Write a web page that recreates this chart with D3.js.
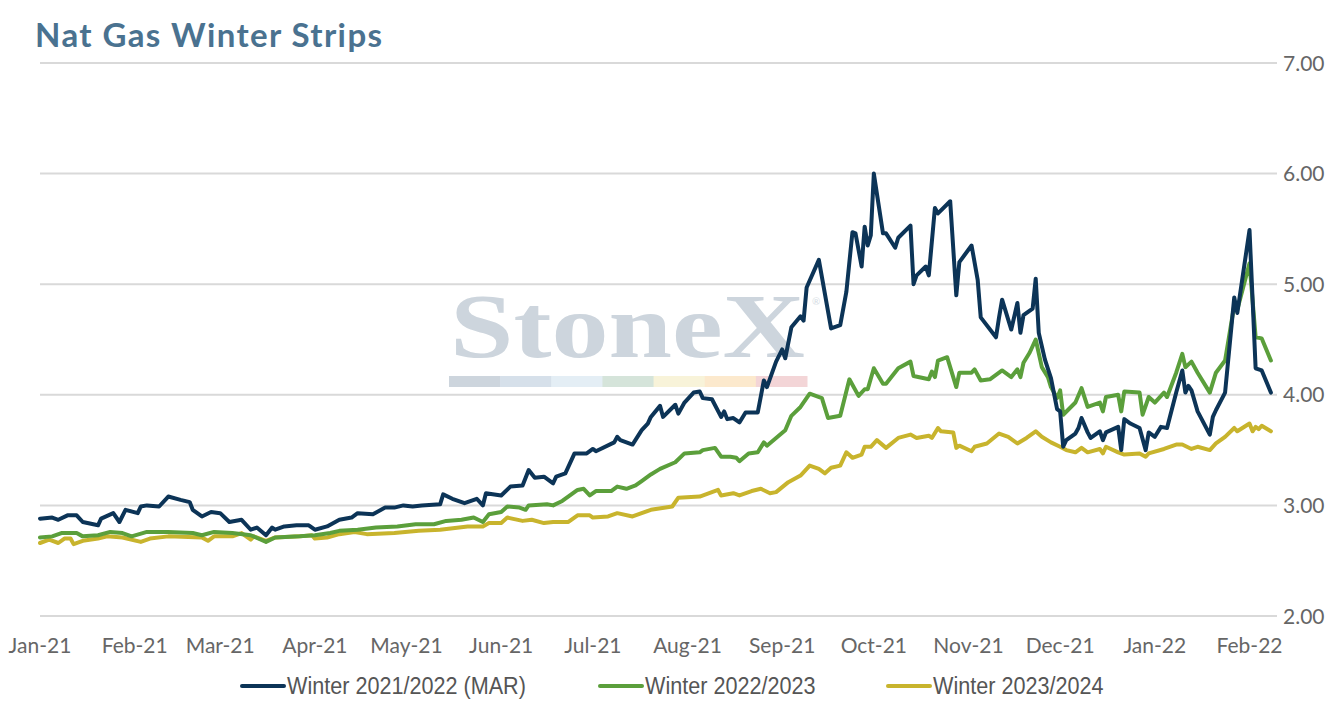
<!DOCTYPE html>
<html>
<head>
<meta charset="utf-8">
<script src="https://cdn.jsdelivr.net/npm/d3@7"></script>
<style>
  html, body { margin: 0; padding: 0; background: #fff; }
  svg { display: block; }
</style>
</head>
<body>
<div id="chart"></div>
<script>
// --- DATA ---
const seriesNames = ["Winter 2021/2022 (MAR)", "Winter 2022/2023", "Winter 2023/2024"];
const seriesColors = ["#0c3457", "#5b9f3b", "#c8b42d"];
const yTicks = [2, 3, 4, 5, 6, 7];

const winter2122 = [
  ["2021-01-01",2.88],["2021-01-05",2.89],["2021-01-07",2.87],["2021-01-10",2.91],["2021-01-13",2.91],
  ["2021-01-15",2.85],["2021-01-20",2.82],["2021-01-21",2.88],["2021-01-25",2.93],["2021-01-27",2.85],
  ["2021-01-29",2.96],["2021-02-02",2.93],["2021-02-03",2.99],["2021-02-05",3.00],["2021-02-09",2.99],
  ["2021-02-12",3.08],["2021-02-16",3.05],["2021-02-19",3.03],["2021-02-20",2.96],["2021-02-23",2.90],
  ["2021-02-26",2.94],["2021-03-01",2.93],["2021-03-04",2.85],["2021-03-08",2.87],["2021-03-11",2.78],
  ["2021-03-13",2.80],["2021-03-16",2.73],["2021-03-18",2.80],["2021-03-19",2.78],["2021-03-22",2.81],
  ["2021-03-26",2.82],["2021-03-30",2.82],["2021-04-01",2.78],["2021-04-05",2.81],["2021-04-09",2.87],
  ["2021-04-13",2.89],["2021-04-15",2.93],["2021-04-20",2.92],["2021-04-24",2.98],["2021-04-27",2.98],
  ["2021-04-30",3.00],["2021-05-03",2.99],["2021-05-06",3.00],["2021-05-12",3.01],["2021-05-13",3.10],
  ["2021-05-16",3.06],["2021-05-20",3.02],["2021-05-24",3.06],["2021-05-26",3.00],["2021-05-27",3.11],
  ["2021-06-01",3.09],["2021-06-04",3.17],["2021-06-08",3.18],["2021-06-10",3.32],["2021-06-12",3.25],
  ["2021-06-15",3.26],["2021-06-18",3.20],["2021-06-19",3.26],["2021-06-22",3.29],["2021-06-25",3.47],
  ["2021-06-29",3.47],["2021-07-01",3.51],["2021-07-02",3.49],["2021-07-08",3.57],["2021-07-09",3.62],
  ["2021-07-10",3.59],["2021-07-14",3.55],["2021-07-17",3.68],["2021-07-19",3.74],["2021-07-20",3.80],
  ["2021-07-23",3.90],["2021-07-24",3.80],["2021-07-28",3.91],["2021-07-29",3.83],["2021-07-31",3.93],
  ["2021-08-03",4.02],["2021-08-05",4.03],["2021-08-06",3.97],["2021-08-09",3.96],["2021-08-12",3.80],
  ["2021-08-13",3.85],["2021-08-14",3.78],["2021-08-16",3.79],["2021-08-18",3.75],["2021-08-20",3.84],
  ["2021-08-24",3.84],["2021-08-26",4.13],["2021-08-27",4.07],["2021-08-30",4.30],["2021-09-01",4.41],
  ["2021-09-02",4.33],["2021-09-04",4.61],["2021-09-07",4.71],["2021-09-08",4.67],["2021-09-09",4.97],
  ["2021-09-13",5.22],["2021-09-17",4.60],["2021-09-20",4.63],["2021-09-22",4.93],["2021-09-24",5.47],
  ["2021-09-25",5.46],["2021-09-27",5.16],["2021-09-28",5.52],["2021-09-29",5.35],["2021-09-30",5.44],
  ["2021-10-01",6.00],["2021-10-04",5.46],["2021-10-05",5.46],["2021-10-08",5.33],["2021-10-09",5.42],
  ["2021-10-13",5.53],["2021-10-14",5.00],["2021-10-15",5.08],["2021-10-18",5.16],["2021-10-19",5.08],
  ["2021-10-21",5.69],["2021-10-22",5.64],["2021-10-26",5.75],["2021-10-28",4.90],["2021-10-29",5.20],
  ["2021-11-02",5.35],["2021-11-04",5.04],["2021-11-05",4.70],["2021-11-10",4.52],["2021-11-11",4.70],
  ["2021-11-12",4.86],["2021-11-15",4.59],["2021-11-17",4.83],["2021-11-18",4.56],["2021-11-19",4.72],
  ["2021-11-22",4.78],["2021-11-23",5.05],["2021-11-24",4.56],["2021-11-26",4.32],["2021-11-28",4.15],
  ["2021-11-30",3.87],["2021-12-01",3.85],["2021-12-02",3.53],["2021-12-03",3.59],["2021-12-06",3.65],
  ["2021-12-07",3.70],["2021-12-08",3.79],["2021-12-10",3.66],["2021-12-11",3.61],["2021-12-14",3.67],
  ["2021-12-15",3.59],["2021-12-16",3.66],["2021-12-20",3.71],["2021-12-21",3.50],["2021-12-22",3.78],
  ["2021-12-24",3.74],["2021-12-27",3.70],["2021-12-29",3.50],["2021-12-30",3.66],["2022-01-01",3.62],
  ["2022-01-03",3.71],["2022-01-05",3.70],["2022-01-08",4.02],["2022-01-10",4.22],["2022-01-11",4.02],
  ["2022-01-12",4.08],["2022-01-13",4.04],["2022-01-15",3.85],["2022-01-19",3.64],["2022-01-20",3.80],
  ["2022-01-21",3.86],["2022-01-24",4.02],["2022-01-27",4.88],["2022-01-28",4.74],["2022-02-01",5.49],
  ["2022-02-03",4.24],["2022-02-05",4.22],["2022-02-08",4.02]
];

const winter2223 = [
  ["2021-01-01",2.71],["2021-01-05",2.72],["2021-01-08",2.75],["2021-01-13",2.75],["2021-01-15",2.72],
  ["2021-01-20",2.73],["2021-01-24",2.76],["2021-01-28",2.75],["2021-01-31",2.72],["2021-02-05",2.76],
  ["2021-02-12",2.76],["2021-02-20",2.75],["2021-02-23",2.73],["2021-02-27",2.76],["2021-03-05",2.75],
  ["2021-03-11",2.73],["2021-03-16",2.67],["2021-03-19",2.71],["2021-03-27",2.72],["2021-04-01",2.73],
  ["2021-04-06",2.75],["2021-04-09",2.77],["2021-04-15",2.78],["2021-04-21",2.80],["2021-04-28",2.81],
  ["2021-05-04",2.83],["2021-05-10",2.83],["2021-05-14",2.86],["2021-05-19",2.87],["2021-05-23",2.89],
  ["2021-05-26",2.85],["2021-05-28",2.92],["2021-06-01",2.94],["2021-06-03",2.99],["2021-06-07",2.98],
  ["2021-06-09",2.96],["2021-06-10",3.00],["2021-06-16",3.01],["2021-06-18",3.00],["2021-06-21",3.04],
  ["2021-06-26",3.14],["2021-06-28",3.15],["2021-06-30",3.09],["2021-07-02",3.13],["2021-07-07",3.13],
  ["2021-07-09",3.17],["2021-07-12",3.15],["2021-07-15",3.18],["2021-07-17",3.22],["2021-07-20",3.28],
  ["2021-07-23",3.33],["2021-07-28",3.39],["2021-07-31",3.47],["2021-08-05",3.48],["2021-08-06",3.50],
  ["2021-08-10",3.52],["2021-08-12",3.44],["2021-08-15",3.44],["2021-08-17",3.43],["2021-08-18",3.40],
  ["2021-08-21",3.47],["2021-08-24",3.48],["2021-08-26",3.57],["2021-08-27",3.54],["2021-08-30",3.61],
  ["2021-09-02",3.68],["2021-09-04",3.81],["2021-09-07",3.89],["2021-09-10",4.01],["2021-09-14",3.97],
  ["2021-09-16",3.79],["2021-09-20",3.81],["2021-09-23",4.14],["2021-09-26",3.99],["2021-09-28",4.05],
  ["2021-09-29",4.05],["2021-10-01",4.24],["2021-10-04",4.10],["2021-10-05",4.10],["2021-10-09",4.24],
  ["2021-10-13",4.30],["2021-10-14",4.17],["2021-10-19",4.14],["2021-10-20",4.21],["2021-10-21",4.16],
  ["2021-10-22",4.31],["2021-10-25",4.34],["2021-10-28",4.07],["2021-10-29",4.20],["2021-11-02",4.20],
  ["2021-11-03",4.23],["2021-11-05",4.13],["2021-11-08",4.14],["2021-11-12",4.22],["2021-11-15",4.16],
  ["2021-11-17",4.23],["2021-11-18",4.16],["2021-11-19",4.29],["2021-11-21",4.38],["2021-11-23",4.50],
  ["2021-11-25",4.25],["2021-11-27",4.16],["2021-11-28",4.07],["2021-11-30",3.97],["2021-12-01",4.04],
  ["2021-12-02",3.82],["2021-12-06",3.93],["2021-12-08",4.06],["2021-12-10",3.89],["2021-12-14",3.93],
  ["2021-12-15",3.85],["2021-12-16",3.98],["2021-12-20",4.00],["2021-12-21",3.85],["2021-12-22",4.03],
  ["2021-12-27",4.02],["2021-12-28",3.82],["2021-12-30",3.98],["2022-01-01",3.93],["2022-01-04",4.02],
  ["2022-01-05",3.98],["2022-01-08",4.20],["2022-01-10",4.37],["2022-01-11",4.25],["2022-01-13",4.30],
  ["2022-01-15",4.20],["2022-01-19",4.02],["2022-01-21",4.20],["2022-01-24",4.31],["2022-01-27",4.81],
  ["2022-01-28",4.77],["2022-02-01",5.19],["2022-02-03",4.52],["2022-02-05",4.51],["2022-02-08",4.31]
];

const winter2324 = [
  ["2021-01-01",2.66],["2021-01-04",2.69],["2021-01-07",2.66],["2021-01-09",2.70],["2021-01-11",2.70],
  ["2021-01-12",2.65],["2021-01-15",2.68],["2021-01-20",2.70],["2021-01-23",2.72],["2021-01-28",2.71],
  ["2021-02-03",2.67],["2021-02-06",2.70],["2021-02-12",2.72],["2021-02-23",2.71],["2021-02-25",2.68],
  ["2021-02-27",2.72],["2021-03-05",2.72],["2021-03-08",2.75],["2021-03-11",2.69],["2021-03-12",2.72],
  ["2021-03-16",2.68],["2021-03-19",2.71],["2021-03-27",2.72],["2021-03-31",2.73],["2021-04-01",2.70],
  ["2021-04-05",2.71],["2021-04-09",2.74],["2021-04-14",2.76],["2021-04-18",2.74],["2021-04-27",2.75],
  ["2021-05-05",2.77],["2021-05-12",2.78],["2021-05-21",2.81],["2021-05-26",2.81],["2021-05-28",2.84],
  ["2021-06-01",2.84],["2021-06-03",2.89],["2021-06-08",2.86],["2021-06-11",2.87],["2021-06-15",2.84],
  ["2021-06-18",2.85],["2021-06-23",2.85],["2021-06-26",2.91],["2021-06-30",2.91],["2021-07-01",2.89],
  ["2021-07-06",2.90],["2021-07-09",2.93],["2021-07-14",2.90],["2021-07-20",2.96],["2021-07-27",2.99],
  ["2021-07-29",3.07],["2021-08-05",3.08],["2021-08-11",3.14],["2021-08-12",3.09],["2021-08-16",3.11],
  ["2021-08-18",3.09],["2021-08-22",3.13],["2021-08-25",3.15],["2021-08-28",3.11],["2021-08-30",3.12],
  ["2021-09-03",3.21],["2021-09-07",3.27],["2021-09-10",3.36],["2021-09-13",3.33],["2021-09-15",3.29],
  ["2021-09-17",3.34],["2021-09-20",3.36],["2021-09-22",3.48],["2021-09-24",3.43],["2021-09-27",3.46],
  ["2021-09-28",3.53],["2021-09-30",3.53],["2021-10-02",3.59],["2021-10-05",3.52],["2021-10-09",3.61],
  ["2021-10-13",3.64],["2021-10-15",3.61],["2021-10-19",3.63],["2021-10-20",3.61],["2021-10-22",3.70],
  ["2021-10-23",3.67],["2021-10-27",3.66],["2021-10-28",3.52],["2021-10-29",3.54],["2021-11-02",3.49],
  ["2021-11-03",3.53],["2021-11-07",3.56],["2021-11-11",3.65],["2021-11-14",3.62],["2021-11-17",3.56],
  ["2021-11-20",3.61],["2021-11-23",3.67],["2021-11-25",3.62],["2021-11-28",3.57],["2021-12-01",3.53],
  ["2021-12-03",3.50],["2021-12-06",3.48],["2021-12-08",3.52],["2021-12-10",3.48],["2021-12-14",3.51],
  ["2021-12-15",3.47],["2021-12-16",3.53],["2021-12-20",3.48],["2021-12-22",3.46],["2021-12-27",3.47],
  ["2021-12-29",3.44],["2021-12-30",3.47],["2022-01-04",3.51],["2022-01-08",3.55],["2022-01-10",3.55],
  ["2022-01-13",3.51],["2022-01-15",3.53],["2022-01-19",3.50],["2022-01-21",3.56],["2022-01-24",3.62],
  ["2022-01-27",3.70],["2022-01-28",3.67],["2022-02-01",3.74],["2022-02-02",3.67],["2022-02-03",3.71],
  ["2022-02-04",3.69],["2022-02-05",3.72],["2022-02-08",3.67]
];

const watermarkBands = ["#cdd5dd", "#d6e0ea", "#e4eef5", "#d5e4da", "#f8f3d9", "#fce9cd", "#f3d5d7"];

// --- LAYOUT ---
const width = 1344, height = 705;
const plot = { left: 40, right: 1277, top: 63, bottom: 616 };
const parseDate = d3.timeParse("%Y-%m-%d");

const svg = d3.select("#chart").append("svg")
  .attr("width", width)
  .attr("height", height)
  .attr("viewBox", [0, 0, width, height]);

const x = d3.scaleTime()
  .domain([parseDate("2021-01-01"), parseDate("2022-02-10")])
  .range([plot.left, plot.right]);

const y = d3.scaleLinear()
  .domain([2, 7])
  .range([plot.bottom, plot.top]);

// Title
svg.append("text")
  .attr("x", 35)
  .attr("y", 47)
  .attr("font-family", "Lato, 'Open Sans', sans-serif")
  .attr("font-weight", 700)
  .attr("font-size", 33)
  .attr("letter-spacing", 1.4)
  .attr("fill", "#4a7290")
  .text("Nat Gas Winter Strips");

// Gridlines
svg.append("g")
  .selectAll("line")
  .data(yTicks)
  .join("line")
  .attr("x1", plot.left)
  .attr("x2", plot.right)
  .attr("y1", d => y(d))
  .attr("y2", d => y(d))
  .attr("stroke", "#d9d9d9")
  .attr("stroke-width", 2);

// Watermark
const wm = svg.append("g");
wm.append("text")
  .attr("x", 450)
  .attr("y", 357)
  .attr("font-family", "'Liberation Serif', 'DejaVu Serif', serif")
  .attr("font-weight", 700)
  .attr("font-size", 92)
  .attr("fill", "#cdd5dd")
  .attr("textLength", 355)
  .attr("lengthAdjust", "spacingAndGlyphs")
  .text("StoneX");
wm.append("text")
  .attr("x", 812)
  .attr("y", 305)
  .attr("font-family", "Lato, sans-serif")
  .attr("font-size", 10)
  .attr("fill", "#d6dde4")
  .text("®");
const bandScale = d3.scaleBand().domain(d3.range(watermarkBands.length)).range([449, 807]);
wm.selectAll("rect")
  .data(watermarkBands)
  .join("rect")
  .attr("x", (d, i) => bandScale(i))
  .attr("y", 376)
  .attr("width", bandScale.bandwidth() + 0.5)
  .attr("height", 11)
  .attr("fill", d => d);

// Y axis labels (right)
svg.append("g")
  .selectAll("text")
  .data(yTicks)
  .join("text")
  .attr("x", 1283)
  .attr("y", d => y(d))
  .attr("dy", "0.36em")
  .attr("font-family", "Lato, sans-serif")
  .attr("font-size", 21)
  .attr("fill", "#666")
  .text(d3.format(".2f"));

// X axis labels
const monthTicks = d3.timeMonth.range(parseDate("2021-01-01"), parseDate("2022-02-02"));
svg.append("g")
  .selectAll("text")
  .data(monthTicks)
  .join("text")
  .attr("x", d => x(d))
  .attr("y", 653)
  .attr("text-anchor", "middle")
  .attr("font-family", "Lato, sans-serif")
  .attr("font-size", 21)
  .attr("fill", "#666")
  .text(d3.timeFormat("%b-%y"));

// Lines
const line = d3.line()
  .x(d => x(parseDate(d[0])))
  .y(d => y(d[1]));

const allSeries = [winter2122, winter2223, winter2324];
// draw in order yellow, green, blue so blue sits on top
[2, 1, 0].forEach(i => {
  svg.append("path")
    .datum(allSeries[i])
    .attr("fill", "none")
    .attr("stroke", seriesColors[i])
    .attr("stroke-width", 4)
    .attr("stroke-linejoin", "round")
    .attr("stroke-linecap", "round")
    .attr("d", line);
});

// Legend
const legendX = [242, 600, 888];
const legend = svg.append("g")
  .selectAll("g")
  .data(seriesNames)
  .join("g")
  .attr("transform", (d, i) => `translate(${legendX[i]},686)`);
legend.append("line")
  .attr("x1", 0).attr("x2", 42)
  .attr("stroke", (d, i) => seriesColors[i])
  .attr("stroke-width", 4)
  .attr("stroke-linecap", "round");
legend.append("text")
  .attr("transform", "translate(45,0) scale(0.9,1)")
  .attr("dy", "0.35em")
  .attr("font-family", "'Liberation Sans', Arial, sans-serif")
  .attr("font-size", 24)
  .attr("fill", "#555")
  .text(d => d);
</script>
</body>
</html>
